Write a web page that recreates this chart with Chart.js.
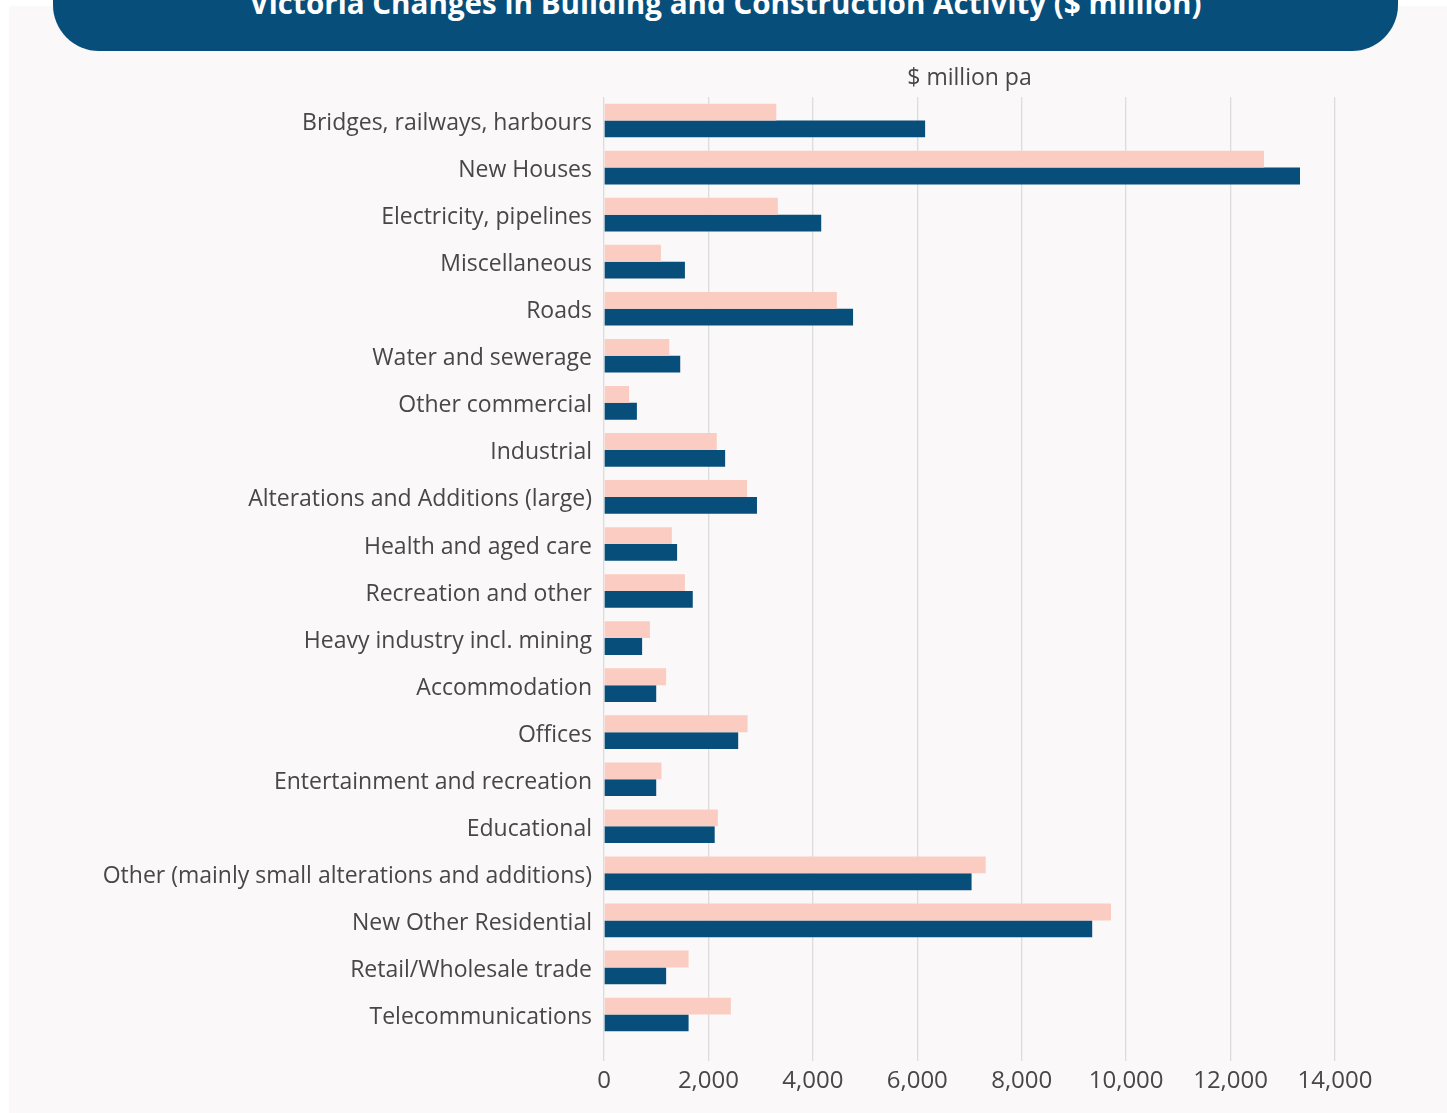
<!DOCTYPE html>
<html>
<head>
<meta charset="utf-8">
<script src="https://cdn.jsdelivr.net/npm/chart.js@4/dist/chart.umd.min.js"></script>
<style>
    body { margin: 0; background: #ffffff; width: 1447px; height: 1113px; overflow: hidden; position: relative; font-family: "Open Sans", sans-serif; }
    #panel { position: absolute; left: 9px; top: 6px; width: 1438px; height: 1107px; background: #faf8f9; }
    #banner { position: absolute; left: 53px; top: -40px; width: 1345px; height: 91px; background: #074f7a; border-radius: 0 0 46px 46px; }
    #banner h1 { position: absolute; left: 0; right: 0; top: 25px; margin: 0; text-align: center; color: #fff; font-size: 29.6px; line-height: 36px; font-weight: 700; }
    #chartbox { position: absolute; left: 9px; top: 6px; width: 1438px; height: 1107px; }
</style>
</head>
<body>
<div id="panel"></div>
<div id="banner"><h1>Victoria Changes in Building and Construction Activity ($ million)</h1></div>
<div id="chartbox"><canvas id="myChart"></canvas></div>
<script>
const categories = [
    'Bridges, railways, harbours',
    'New Houses',
    'Electricity, pipelines',
    'Miscellaneous',
    'Roads',
    'Water and sewerage',
    'Other commercial',
    'Industrial',
    'Alterations and Additions (large)',
    'Health and aged care',
    'Recreation and other',
    'Heavy industry incl. mining',
    'Accommodation',
    'Offices',
    'Entertainment and recreation',
    'Educational',
    'Other (mainly small alterations and additions)',
    'New Other Residential',
    'Retail/Wholesale trade',
    'Telecommunications'
];
// pink bars (upper bar in each pair)
const earlier = [3300, 12640, 3330, 1090, 4460, 1250, 480, 2160, 2740, 1300, 1550, 880, 1190, 2750, 1100, 2180, 7310, 9710, 1620, 2430];
// dark blue bars (lower bar in each pair)
const latest = [6150, 13330, 4160, 1550, 4770, 1460, 630, 2320, 2930, 1400, 1700, 730, 1000, 2570, 1000, 2120, 7040, 9350, 1190, 1620];
const xTicks = [0, 2000, 4000, 6000, 8000, 10000, 12000, 14000];

const textColor = '#474747';
const gridColor = '#dcdcdc';
const fontFamily = '"Open Sans", sans-serif';

let ctx = document.getElementById('myChart');
new Chart(ctx, {
    type: 'bar',
    data: {
        labels: categories,
        datasets: [{
            label: 'Earlier',
            data: earlier,
            backgroundColor: '#fbcdc2',
            borderWidth: 0,
            categoryPercentage: 0.715,
            barPercentage: 1.0
        },
        {
            label: 'Latest',
            data: latest,
            backgroundColor: '#074f7a',
            borderWidth: 0,
            categoryPercentage: 0.715,
            barPercentage: 1.0
        }]
    },
    options: {
        indexAxis: 'y',
        responsive: true,
        maintainAspectRatio: false,
        animation: false,
        layout: { padding: { left: 0, right: 112, top: 0, bottom: 0 } },
        plugins: {
            legend: { display: false },
            tooltip: { enabled: false }
        },
        scales: {
            x: {
                position: 'bottom',
                min: 0,
                max: 14000,
                afterBuildTicks: (scale) => { scale.ticks = xTicks.map(v => ({ value: v })); },
                afterFit: (scale) => { scale.height = 75; },
                grid: { color: gridColor, lineWidth: 1.3, tickLength: 23, drawTicks: true },
                border: { display: false },
                ticks: {
                    color: textColor,
                    padding: 6,
                    font: { family: fontFamily, size: 24 },
                    callback: (v) => v.toLocaleString('en-US')
                }
            },
            xTop: {
                position: 'top',
                axis: 'x',
                type: 'linear',
                min: 0,
                max: 14000,
                afterFit: (scale) => { scale.height = 91; },
                grid: { display: false },
                border: { display: false },
                ticks: { display: false },
                title: {
                    display: true,
                    text: '$ million pa',
                    color: textColor,
                    padding: { top: 59, bottom: 0 },
                    font: { family: fontFamily, size: 23 }
                }
            },
            y: {
                afterFit: (scale) => { scale.width = 595; },
                grid: { display: false },
                border: { display: false },
                ticks: {
                    color: textColor,
                    padding: 4,
                    labelOffset: 3,
                    autoSkip: false,
                    font: { family: fontFamily, size: 23 }
                }
            }
        }
    }
});
</script>
</body>
</html>
